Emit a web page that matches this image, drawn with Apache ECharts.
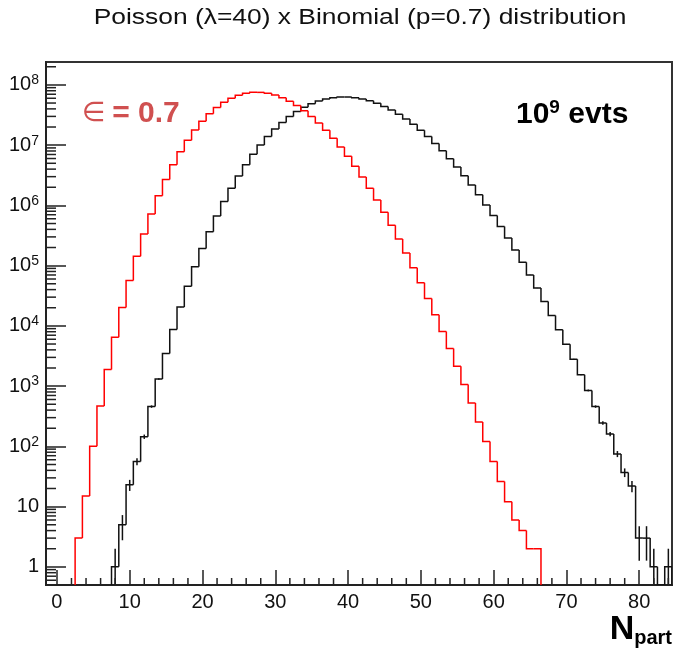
<!DOCTYPE html>
<html><head><meta charset="utf-8">
<script src="https://cdn.jsdelivr.net/npm/echarts@6/dist/echarts.min.js"></script>
<style>html,body{margin:0;padding:0;background:#fff}#c{width:673px;height:649px}</style>
</head><body><div id="c"></div>
<script>
// ---- data ----
const blackBins = [8,9,10,11,12,13,14,15,16,17,18,19,20,21,22,23,24,25,26,27,28,29,30,31,32,33,34,35,36,37,38,39,40,41,42,43,44,45,46,47,48,49,50,51,52,53,54,55,56,57,58,59,60,61,62,63,64,65,66,67,68,69,70,71,72,73,74,75,76,77,78,79,80,81,82,83,84];
const blackCounts = [1,5,23,56,145,458,1309,3489,8724,20526,45612,96027,192050,365810,665110,1156900,1928100,3084900,4746000,7031000,10044000,13853000,18470000,23834000,29793000,36113000,42486000,48556000,53951000,58326000,61395000,62968000,62968000,61434000,58510000,54427000,49479000,43981000,38244000,32548000,27123000,22141000,17713000,13893000,10687000,8065000,5974000,4345000,3104000,2178000,1502000,1018400,678900,445200,287200,182400,114000,70150,42510,25380,14930,8656,4946,2787,1548,848,458,245,160,75,37,22,3,3,1,0,1];
const redBins = [3,4,5,6,7,8,9,10,11,12,13,14,15,16,17,18,19,20,21,22,23,24,25,26,27,28,29,30,31,32,33,34,35,36,37,38,39,40,41,42,43,44,45,46,47,48,49,50,51,52,53,54,55,56,57,58,59,60,61,62,63,64,65,66];
const redCounts = [3,15,100,470,1880,6470,20160,56430,143690,335200,722100,1444300,2695800,4717700,7770000,12087000,17813000,24937000,33248000,42317000,51502000,60087000,67306000,72490000,75175000,75175000,72584000,67740000,61191000,53542000,45439000,37414000,29932000,23282000,17621000,12985000,9321000,6524000,4455000,2970000,1934000,1231000,765900,466100,277700,162000,92580,51850,28470,15330,8097,4198,2138,1069,525,253,120,56,26,12,6,4,2,2];
const xTickLabels = ['0','10','20','30','40','50','60','70','80'];
const titleText = 'Poisson (\u03bb=40) x Binomial (p=0.7) distribution';

// ---- layout / style ----
const X_MIN = -1.5, X_MAX = 84.5, Y_MIN = 0.5, Y_MAX = 2.4e8;
const FONT = '"Liberation Sans", Arial, Helvetica, sans-serif';
const LW = 1.5;

const chart = echarts.init(document.getElementById('c'), null, {renderer: 'canvas'});

function histSeries(name, bins, counts, color, withErrors) {
  return {
    type: 'custom', name: name, coordinateSystem: 'cartesian2d', clip: true, z: withErrors ? 3 : 4,
    data: bins.map((b, i) => [b, counts[i]]),
    encode: {x: 0, y: 1},
    renderItem: function (params, api) {
      const i = params.dataIndex;
      const k = api.value(0), v = api.value(1);
      const prev = i > 0 ? counts[i - 1] : 0;
      const lv = Math.max(v, Y_MIN), lp = Math.max(prev, Y_MIN);
      const pts = [api.coord([k - 0.5, lp]), api.coord([k - 0.5, lv]), api.coord([k + 0.5, lv])];
      if (i === bins.length - 1) pts.push(api.coord([k + 0.5, Y_MIN]));
      const children = [{type: 'polyline', shape: {points: pts}, style: {stroke: color, lineWidth: LW, fill: null}}];
      if (withErrors && v > 0) {
        const e = Math.sqrt(v);
        const a = api.coord([k, Math.max(v - e, Y_MIN)]);
        const b = api.coord([k, v + e]);
        children.push({type: 'line', shape: {x1: a[0], y1: a[1], x2: b[0], y2: b[1]}, style: {stroke: color, lineWidth: LW}});
      }
      return {type: 'group', children: children};
    }
  };
}

// minor tick positions (axis decoration)
const xMinor = [];
for (let t = 2; t <= 84; t += 2) if (t % 10 !== 0) xMinor.push([t, Y_MIN]);
const yMinor = [];
for (let n = -1; n <= 8; n++) for (let m = 2; m <= 9; m++) {
  const val = m * Math.pow(10, n);
  if (val > Y_MIN && val < Y_MAX) yMinor.push([X_MIN, val]);
}

const tickSeriesX = {
  type: 'custom', coordinateSystem: 'cartesian2d', clip: false, silent: true, z: 5,
  data: xMinor, encode: {x: 0, y: 1},
  renderItem: function (params, api) {
    const p = api.coord([api.value(0), api.value(1)]);
    return {type: 'line', shape: {x1: p[0], y1: p[1], x2: p[0], y2: p[1] - 7}, style: {stroke: '#222', lineWidth: 1.5}};
  }
};
const tickSeriesY = {
  type: 'custom', coordinateSystem: 'cartesian2d', clip: false, silent: true, z: 5,
  data: yMinor, encode: {x: 0, y: 1},
  renderItem: function (params, api) {
    const p = api.coord([api.value(0), api.value(1)]);
    return {type: 'line', shape: {x1: p[0], y1: p[1], x2: p[0] + 10, y2: p[1]}, style: {stroke: '#222', lineWidth: 1.5}};
  }
};

const option = {
  animation: false,
  backgroundColor: '#fff',
  grid: {left: 46, right: 1, top: 62, bottom: 64, show: true, borderColor: '#333', borderWidth: 2, backgroundColor: 'transparent'},
  xAxis: {
    type: 'value', min: X_MIN, max: X_MAX, splitNumber: 8,
    axisLine: {show: true, onZero: false, lineStyle: {color: '#222', width: 2}},
    axisTick: {show: true, inside: true, length: 15, lineStyle: {color: '#222', width: 1.5}},
    splitLine: {show: false},
    axisLabel: {
      showMinLabel: false, showMaxLabel: false, margin: 7,
      color: '#111', fontFamily: FONT, fontSize: 20,
      formatter: function (v) { const s = String(Math.round(v)); return (Math.abs(v - Math.round(v)) < 1e-6 && xTickLabels.indexOf(s) >= 0) ? s : ''; }
    }
  },
  yAxis: {
    type: 'log', logBase: 10, min: Y_MIN, max: Y_MAX,
    axisLine: {show: true, onZero: false, lineStyle: {color: '#222', width: 2}},
    axisTick: {show: true, inside: true, length: 20, lineStyle: {color: '#222', width: 1.5}},
    splitLine: {show: false},
    axisLabel: {
      showMinLabel: false, showMaxLabel: false, margin: 7, color: '#111',
      formatter: function (v) {
        const l = Math.log10(v), e = Math.round(l);
        if (Math.abs(l - e) > 1e-6) return '';
        if (e === 0) return '{b|1}';
        if (e === 1) return '{b|10}';
        return '{b|10}{s|' + e + '}';
      },
      rich: {
        b: {fontFamily: FONT, fontSize: 20, color: '#111'},
        s: {fontFamily: FONT, fontSize: 14, color: '#111', padding: [0, 0, 9, 0]}
      }
    }
  },
  series: [
    histSeries('Poisson', blackBins, blackCounts, '#111', true),
    histSeries('Binomial', redBins, redCounts, '#ff0000', false),
    tickSeriesX, tickSeriesY
  ],
  graphic: [
    {type: 'text', x: 360, y: 18, scaleX: 1.2, style: {text: titleText, font: '22px ' + FONT, fill: '#111', align: 'center', verticalAlign: 'middle'}},
    {type: 'text', x: 82, y: 114, style: {
      text: '{e|\u2208}  {b|= 0.7}', align: 'left', verticalAlign: 'middle',
      rich: {e: {fontFamily: '"DejaVu Sans", sans-serif', fontSize: 27, fill: '#d05050', color: '#d05050'},
             b: {fontFamily: FONT, fontWeight: 'bold', fontSize: 30, fill: '#d05050', color: '#d05050'}}
    }},
    {type: 'text', x: 516, y: 115, style: {
      text: '{a|10}{s|9}{a| evts}', align: 'left', verticalAlign: 'middle',
      rich: {a: {fontFamily: FONT, fontWeight: 'bold', fontSize: 30, fill: '#000', color: '#000'},
             s: {fontFamily: FONT, fontWeight: 'bold', fontSize: 19, fill: '#000', color: '#000', padding: [0, 0, 14, 0]}}
    }},
    {type: 'text', x: 672, y: 630, style: {
      text: '{n|N}{p|part}', align: 'right', verticalAlign: 'middle',
      rich: {n: {fontFamily: FONT, fontWeight: 'bold', fontSize: 34, fill: '#000', color: '#000'},
             p: {fontFamily: FONT, fontWeight: 'bold', fontSize: 20, fill: '#000', color: '#000', padding: [16, 0, 0, 0]}}
    }}
  ]
};
chart.setOption(option);
</script>
</body></html>
